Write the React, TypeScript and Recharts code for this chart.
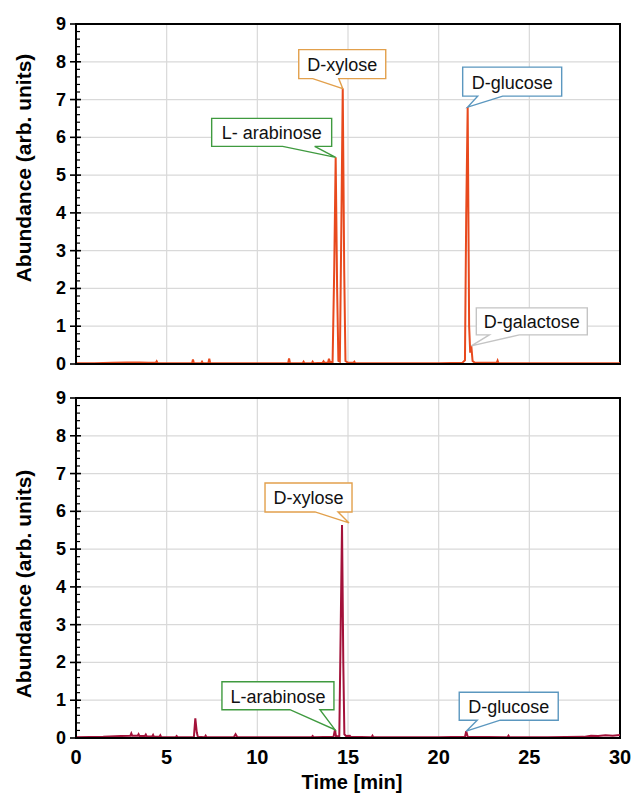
import * as React from 'react';
import {
  LineChart,
  Line,
  XAxis,
  YAxis,
  CartesianGrid,
  ReferenceDot,
  ReferenceArea,
} from 'recharts';

// ---- data ----
const xTicks = [0, 5, 10, 15, 20, 25, 30];
const yTicks = [0, 1, 2, 3, 4, 5, 6, 7, 8, 9];
const X_MAX = 30;
const Y_MAX = 9;

// hydrolysate sample (top panel)
const topTime = [
  0, 1.0, 2.0, 2.8, 3.5, 4.0, 4.4, 4.45, 4.5, 5.5, 6.4, 6.45, 6.5, 6.9, 6.95, 7.0,
  7.3, 7.35, 7.4, 9.0, 10.5, 11.7, 11.75, 11.8, 12.5, 12.55, 12.6, 13.0, 13.05, 13.1,
  13.6, 13.65, 13.7, 13.9, 13.95, 14.0, 14.15, 14.24, 14.32, 14.4, 14.47, 14.55,
  14.63, 14.71, 14.79, 14.86, 15.0, 15.3, 15.35, 15.4, 16.5, 18.5, 20.0, 21.3, 21.45,
  21.52, 21.6, 21.68, 21.74, 21.8, 21.87, 22.0, 23.2, 23.25, 23.3, 25.0, 27.0, 30.0,
];
const topAbundance = [
  0.02, 0.02, 0.03, 0.04, 0.04, 0.03, 0.03, 0.07, 0.02, 0.02, 0.02, 0.12, 0.02, 0.02, 0.06, 0.02,
  0.02, 0.14, 0.02, 0.02, 0.02, 0.02, 0.15, 0.02, 0.02, 0.06, 0.02, 0.02, 0.06, 0.02,
  0.03, 0.07, 0.03, 0.04, 0.14, 0.05, 0.05, 2.5, 5.47, 2.0, 0.08, 0.06,
  3.5, 7.29, 2.5, 0.08, 0.03, 0.03, 0.06, 0.02, 0.02, 0.02, 0.02, 0.03, 0.1,
  4.0, 6.8, 1.0, 0.3, 0.48, 0.08, 0.03, 0.03, 0.09, 0.02, 0.02, 0.02, 0.02,
];

// second sample (bottom panel)
const bottomTime = [
  0, 1.5, 2.5, 3.0, 3.05, 3.1, 3.4, 3.45, 3.5, 3.8, 3.85, 3.9, 4.2, 4.25, 4.3, 4.6,
  4.65, 4.7, 5.5, 5.55, 5.6, 6.5, 6.58, 6.66, 6.72, 7.1, 7.15, 7.2, 8.7, 8.8, 8.9,
  11.0, 13.0, 13.05, 13.1, 14.2, 14.28, 14.34, 14.52, 14.6, 14.67, 14.74, 14.8, 14.9,
  15.1, 15.15, 16.3, 16.35, 16.4, 20.0, 21.45, 21.52, 21.6, 23.8, 23.85, 23.9, 26.0,
  28.0, 28.4, 28.8, 29.2, 29.6, 30.0,
];
const bottomAbundance = [
  0.02, 0.03, 0.05, 0.06, 0.12, 0.06, 0.06, 0.1, 0.05, 0.05, 0.09, 0.04, 0.04, 0.08, 0.03, 0.03,
  0.07, 0.02, 0.02, 0.05, 0.02, 0.02, 0.52, 0.15, 0.03, 0.02, 0.06, 0.02, 0.02, 0.1, 0.02,
  0.02, 0.02, 0.05, 0.02, 0.03, 0.22, 0.04, 0.05, 3.0, 5.64, 2.0, 0.1, 0.05,
  0.06, 0.03, 0.02, 0.06, 0.02, 0.02, 0.03, 0.18, 0.03, 0.02, 0.06, 0.02, 0.02,
  0.03, 0.06, 0.05, 0.07, 0.06, 0.08,
];

// callout labels: peak position (data) + box placement (px, relative to peak)
const topCalloutDefs = [
  { text: 'L- arabinose', t: 14.32, v: 5.47, color: '#3f9a3f', dx: -124, dy: -39, w: 120, h: 28, a: 71, b: 103, tx: 0, ty: 0 },
  { text: 'D-xylose', t: 14.71, v: 7.29, color: '#e2a04c', dx: -44, dy: -39, w: 87, h: 29, a: 14, b: 40, tx: 0, ty: 0 },
  { text: 'D-glucose', t: 21.6, v: 6.8, color: '#5b97bf', dx: -5, dy: -40, w: 99, h: 29, a: 15, b: 40, tx: 0, ty: 0 },
  { text: 'D-galactose', t: 21.8, v: 0.48, color: '#c4c4c4', dx: 5, dy: -38, w: 111, h: 27, a: 13, b: 43, tx: 0, ty: 0 },
];
const bottomCalloutDefs = [
  { text: 'D-xylose', t: 14.67, v: 5.64, color: '#e2a04c', dx: -77, dy: -42, w: 87, h: 29, a: 50, b: 73, tx: 7, ty: -2 },
  { text: 'L-arabinose', t: 14.28, v: 0.22, color: '#3f9a3f', dx: -113, dy: -48, w: 112, h: 28, a: 68, b: 98, tx: 0, ty: 0 },
  { text: 'D-glucose', t: 21.52, v: 0.18, color: '#5b97bf', dx: -7, dy: -39, w: 99, h: 28, a: 18, b: 41, tx: 0, ty: 0 },
];

// every 0.2 on the abundance axis (integers get labels)
const yAxisTicks = Array.from({ length: 46 }, (_, i) => Math.round(i * 2) / 10);

const FONT = '"Liberation Sans", Arial, sans-serif';
const TOP_COLOR = '#e8491d';
const BOTTOM_COLOR = '#a3123a';

// both panels share one identical layout; the lower one overlaps the upper one's empty x-axis strip
const CHART_W = 631;
const CHART_H = 420;
const MARGIN = { top: 24, right: 11, bottom: 0, left: 0 };
const BOTTOM_TOP = 374;
const X_DOMAIN = [0, X_MAX];
const Y_DOMAIN = [0, Y_MAX];
const AXIS_LINE = { stroke: '#000', strokeWidth: 2 };

const zip = (ts: number[], vs: number[]) => ts.map((t, i) => ({ t, v: vs[i] }));
const topRows = zip(topTime, topAbundance);
const bottomRows = zip(bottomTime, bottomAbundance);

function YTick(props: any) {
  const { x, y, payload } = props;
  const v = payload.value;
  const major = Math.abs(v - Math.round(v)) < 1e-6;
  if (!major) {
    return <line x1={x} x2={x + 4} y1={y} y2={y} stroke="#000" strokeWidth={1.2} />;
  }
  return (
    <g>
      <line x1={x - 6} x2={x + 5} y1={y} y2={y} stroke="#000" strokeWidth={1.6} />
      <text
        x={x - 10}
        y={y}
        textAnchor="end"
        dominantBaseline="central"
        fontFamily={FONT}
        fontWeight="bold"
        fontSize={18}
        fill="#000"
      >
        {Math.round(v)}
      </text>
    </g>
  );
}

function XTick(props: any) {
  const { x, y, payload, show } = props;
  if (!show) return <g />;
  return (
    <text
      x={x}
      y={y + 4}
      textAnchor="middle"
      dominantBaseline="hanging"
      fontFamily={FONT}
      fontWeight="bold"
      fontSize={20}
      fill="#000"
    >
      {payload.value}
    </text>
  );
}

function CalloutShape(props: any) {
  const { cx, cy, c } = props;
  if (cx == null || cy == null) return <g />;
  const left = cx + c.dx;
  const top = cy + c.dy;
  const bottom = top + c.h;
  const d = `M${left},${top} H${left + c.w} V${bottom} H${left + c.b} L${cx + c.tx},${cy + c.ty} L${left + c.a},${bottom} H${left} Z`;
  return (
    <g>
      <path d={d} fill="#fff" stroke={c.color} strokeWidth={1.4} />
      <text
        x={left + c.w / 2}
        y={top + c.h / 2 + 1}
        textAnchor="middle"
        dominantBaseline="central"
        fontFamily={FONT}
        fontSize={18}
        fill="#111"
      >
        {c.text}
      </text>
    </g>
  );
}

// stable shape renderers (created once)
const withShape = (defs: any[]) =>
  defs.map((c) => ({ ...c, shape: (p: any) => <CalloutShape {...p} c={c} /> }));
const topCallouts = withShape(topCalloutDefs);
const bottomCallouts = withShape(bottomCalloutDefs);

const makeYTitle = (shift: number) => ({
  content: (p: any) => {
    const vb = p.viewBox || { y: 0, height: 0 };
    const cy = vb.y + vb.height / 2 + shift;
    return (
      <text
        x={23}
        y={cy}
        transform={`rotate(-90 23 ${cy})`}
        textAnchor="middle"
        dominantBaseline="central"
        fontFamily={FONT}
        fontWeight="bold"
        fontSize={21}
        fill="#000"
      >
        Abundance (arb. units)
      </text>
    );
  },
});
const Y_TITLE_TOP = makeYTitle(-26);
const Y_TITLE_BOTTOM = makeYTitle(16);

const makeXTitle = (show: boolean) => ({
  content: (p: any) => {
    if (!show) return <g />;
    const vb = p.viewBox || { x: 0, y: 0, width: 0, height: 0 };
    return (
      <text
        x={vb.x + vb.width / 2 + 4}
        y={vb.y + vb.height - 5}
        textAnchor="middle"
        fontFamily={FONT}
        fontWeight="bold"
        fontSize={20}
        fill="#000"
      >
        Time [min]
      </text>
    );
  },
});
const X_TITLE_HIDDEN = makeXTitle(false);
const X_TITLE_SHOWN = makeXTitle(true);

const Y_TICK = <YTick />;
const X_TICK_HIDDEN = <XTick show={false} />;
const X_TICK_SHOWN = <XTick show />;

// grid only at the integer / 5-min positions
const gridH = ({ offset }: any) => yTicks.map((v) => offset.top + offset.height * (1 - v / Y_MAX));
const gridV = ({ offset }: any) => xTicks.map((v) => offset.left + offset.width * (v / X_MAX));

function Panel({
  rows,
  color,
  callouts,
  xTick,
  xTitle,
  yTitle,
}: {
  rows: any[];
  color: string;
  callouts: any[];
  xTick: any;
  xTitle: any;
  yTitle: any;
}) {
  return (
    <LineChart width={CHART_W} height={CHART_H} margin={MARGIN}>
      <CartesianGrid
        stroke="#d9d9d9"
        strokeWidth={1.2}
        horizontalCoordinatesGenerator={gridH}
        verticalCoordinatesGenerator={gridV}
      />
      <XAxis
        type="number"
        dataKey="t"
        domain={X_DOMAIN}
        ticks={xTicks}
        interval={0}
        axisLine={AXIS_LINE}
        tickLine={false}
        tick={xTick}
        height={56}
        label={xTitle}
      />
      <YAxis
        type="number"
        domain={Y_DOMAIN}
        ticks={yAxisTicks}
        interval={0}
        width={76}
        axisLine={AXIS_LINE}
        tickLine={false}
        tickSize={0}
        tickMargin={0}
        tick={Y_TICK}
        label={yTitle}
      />
      <ReferenceArea x1={0} x2={X_MAX} y1={0} y2={Y_MAX} fill="none" stroke="#000" strokeWidth={2} />
      <Line
        data={rows}
        dataKey="v"
        type="linear"
        stroke={color}
        strokeWidth={2}
        dot={false}
        activeDot={false}
        isAnimationActive={false}
      />
      {callouts.map((c) => (
        <ReferenceDot key={c.text} x={c.t} y={c.v} r={0} ifOverflow="visible" shape={c.shape} />
      ))}
    </LineChart>
  );
}

export default function App() {
  return (
    <div
      style={{
        position: 'absolute',
        left: 0,
        top: 0,
        width: CHART_W,
        height: 794,
        overflow: 'hidden',
      }}
    >
      <div style={{ position: 'absolute', left: 0, top: 0 }}>
        <Panel
          rows={topRows}
          color={TOP_COLOR}
          callouts={topCallouts}
          xTick={X_TICK_HIDDEN}
          xTitle={X_TITLE_HIDDEN}
          yTitle={Y_TITLE_TOP}
        />
      </div>
      <div style={{ position: 'absolute', left: 0, top: BOTTOM_TOP }}>
        <Panel
          rows={bottomRows}
          color={BOTTOM_COLOR}
          callouts={bottomCallouts}
          xTick={X_TICK_SHOWN}
          xTitle={X_TITLE_SHOWN}
          yTitle={Y_TITLE_BOTTOM}
        />
      </div>
    </div>
  );
}
